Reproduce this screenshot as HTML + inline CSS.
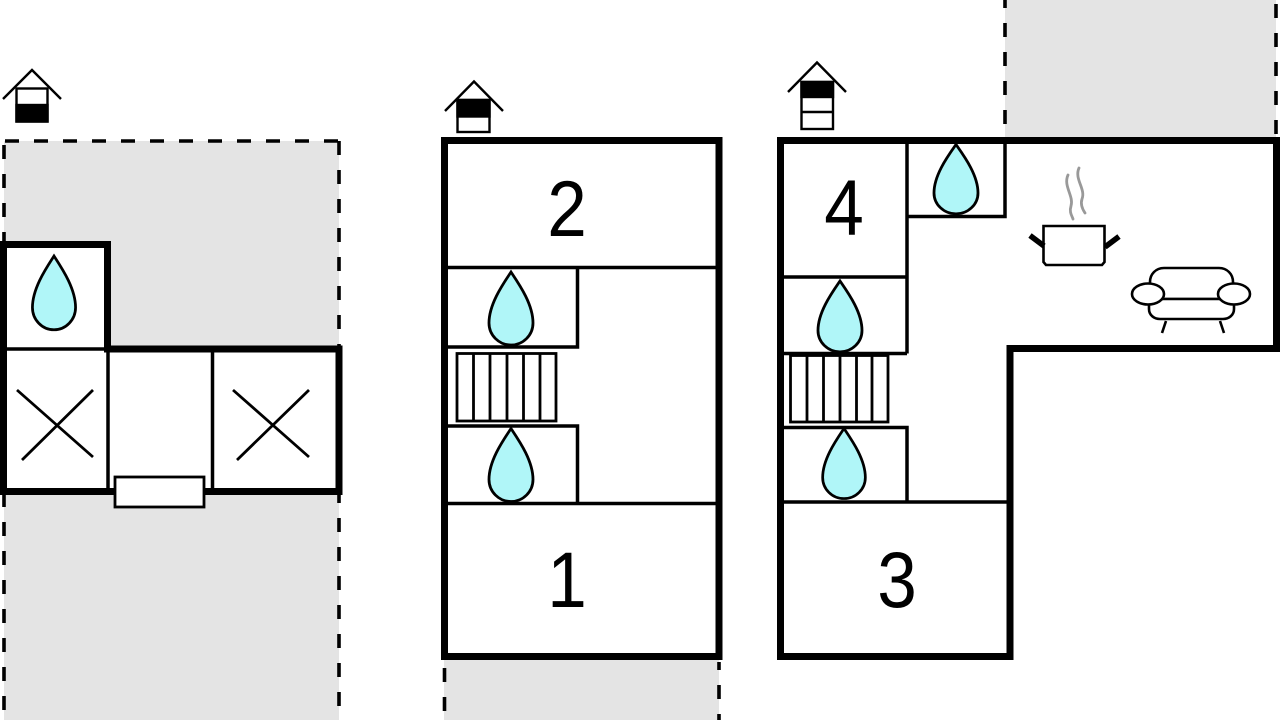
<!DOCTYPE html>
<html><head><meta charset="utf-8"><style>
html,body{margin:0;padding:0;background:#fff;}
svg{display:block;}
text{font-family:"Liberation Sans",Arial,sans-serif;}
</style></head><body>
<svg width="1280" height="720" viewBox="0 0 1280 720" xmlns="http://www.w3.org/2000/svg">
<defs>
<path id="drop" d="M0,0 C8,12 22,32 22,51 A22,22 0 0 1 -22,51 C-22,32 -8,12 0,0 Z" fill="#b0f6f8" stroke="#000" stroke-width="2.8"/>
</defs>

<!-- gray outdoor areas -->
<rect x="4" y="141" width="335" height="590" fill="#e4e4e4"/>
<rect x="444" y="658" width="275" height="70" fill="#e4e4e4"/>
<rect x="1005" y="-5" width="271" height="145" fill="#e4e4e4"/>
<g stroke="#000" stroke-width="3.6" stroke-dasharray="14 15" fill="none">
  <path d="M5,141 H339"/>
  <path d="M4,145 V720"/>
  <path d="M339,141 V720"/>
  <path d="M444.5,662 V720" stroke-dashoffset="-6"/>
  <path d="M719,662 V720" stroke-dashoffset="6"/>
  <path d="M1005,0 V138" stroke-dashoffset="6"/>
  <path d="M1276,0 V138" stroke-dashoffset="-4"/>
</g>

<!-- ============ LEFT PLAN ============ -->
<g stroke="#000" fill="none">
  <path d="M3.5,244.5 H107.5 V349 H339 V491.5 H3.5 Z" fill="#fff" stroke-width="7"/>
  <path d="M3.5,349 H107.5" stroke-width="3.5"/>
  <path d="M108,349 V491" stroke-width="3.5"/>
  <path d="M212.5,349 V491" stroke-width="3.5"/>
  <path d="M17,390 L93,457 M93,390 L22,460" stroke-width="2.8"/>
  <path d="M233,390 L309,457 M309,390 L237,460" stroke-width="2.8"/>
  <rect x="115" y="477" width="89" height="30" fill="#fff" stroke-width="2.8"/>
</g>
<use href="#drop" transform="translate(54,256) scale(0.98,1.01)"/>
<!-- left house icon -->
<g stroke="#000" stroke-width="2.4">
  <rect x="16.5" y="88.5" width="31" height="33" fill="#fff"/>
  <rect x="16.5" y="105" width="31" height="16.5" fill="#000"/>
  <path d="M3,99 L32,70 L61,99" fill="none"/>
</g>

<!-- ============ MIDDLE PLAN ============ -->
<g stroke="#000" fill="none">
  <rect x="444.5" y="140.5" width="274.5" height="516" fill="#fff" stroke-width="7"/>
  <path d="M444,267.5 H719" stroke-width="3.5"/>
  <path d="M444,347 H577.5 V267.5" stroke-width="3.5"/>
  <rect x="457" y="353.5" width="99" height="67.5" stroke-width="2.8"/>
  <path d="M473.5,353.5 V421 M490,353.5 V421 M507,353.5 V421 M523.5,353.5 V421 M540,353.5 V421" stroke-width="2.8"/>
  <path d="M444,426 H577.5 V503.5" stroke-width="3.5"/>
  <path d="M444,503.5 H719" stroke-width="3.5"/>
</g>
<use href="#drop" transform="translate(511,272) scale(1,1)"/>
<use href="#drop" transform="translate(511,428.5) scale(1,1)"/>
<text transform="translate(567,236) scale(0.9,1)" font-size="79" text-anchor="middle" fill="#000">2</text>
<text transform="translate(567,607) scale(0.9,1)" font-size="79" text-anchor="middle" fill="#000">1</text>
<!-- middle house icon -->
<g stroke="#000" stroke-width="2.4">
  <rect x="457.5" y="100" width="32" height="32" fill="#fff"/>
  <rect x="457.5" y="100" width="32" height="16.5" fill="#000"/>
  <path d="M445,111 L474,81.5 L503,111" fill="none"/>
</g>

<!-- ============ RIGHT PLAN ============ -->
<g stroke="#000" fill="none">
  <path d="M780.5,140.5 H1276.5 V348.5 H1010 V656.5 H780.5 Z" fill="#fff" stroke-width="7"/>
  <path d="M907,144 V353.5" stroke-width="3.5"/>
  <path d="M784,277 H907" stroke-width="3.5"/>
  <path d="M784,353.5 H907" stroke-width="3.5"/>
  <path d="M907,216.5 H1005 V144" stroke-width="3.5"/>
  <rect x="790.5" y="355.5" width="97.5" height="66.5" stroke-width="2.8"/>
  <path d="M807,355.5 V422 M823.5,355.5 V422 M840,355.5 V422 M856.5,355.5 V422 M872,355.5 V422" stroke-width="2.8"/>
  <path d="M784,427.5 H907 V502" stroke-width="3.5"/>
  <path d="M784,502 H1010" stroke-width="3.5"/>
</g>
<use href="#drop" transform="translate(956,144.5) scale(1,0.95)"/>
<use href="#drop" transform="translate(840,281) scale(1,0.97)"/>
<use href="#drop" transform="translate(844,428.5) scale(0.97,0.96)"/>
<text transform="translate(844,235) scale(0.9,1)" font-size="79" text-anchor="middle" fill="#000">4</text>
<text transform="translate(897,607) scale(0.9,1)" font-size="79" text-anchor="middle" fill="#000">3</text>
<!-- right house icon -->
<g stroke="#000" stroke-width="2.4">
  <rect x="801.5" y="82" width="31.5" height="47" fill="#fff"/>
  <rect x="801.5" y="82" width="31.5" height="15" fill="#000"/>
  <path d="M801.5,112 H833" fill="none"/>
  <path d="M788,92 L817,62.5 L846,92" fill="none"/>
</g>

<!-- pot -->
<g stroke="#000" fill="none">
  <path d="M1043.5,226 H1104.5 V262 L1102,265 H1046 L1043.5,262 Z" fill="#fff" stroke-width="2.6"/>
  <path d="M1030,235.5 L1044,246" stroke-width="5.5"/>
  <path d="M1119,236.5 L1105,247" stroke-width="5.5"/>
</g>
<g stroke="#999" stroke-width="2.8" fill="none" stroke-linecap="round">
  <path d="M1068,175 C1063,186 1074,196 1071,206 C1069,212 1072,216 1073,219"/>
  <path d="M1079,168 C1074,179 1086,189 1082,199 C1080,205 1083,210 1085,213"/>
</g>
<!-- sofa -->
<g stroke="#000" stroke-width="2.6" fill="#fff">
  <path d="M1150,299 V282 C1150,274 1156,268 1164,268 H1219 C1227,268 1233,274 1233,282 V299 Z"/>
  <path d="M1149,299 H1234 V309 C1234,315 1229,319 1223,319 H1160 C1154,319 1149,315 1149,309 Z"/>
  <ellipse cx="1148" cy="294" rx="16" ry="10.5"/>
  <ellipse cx="1234" cy="294" rx="16" ry="10.5"/>
  <path d="M1166,321 L1162,333 M1220,321 L1224,333" fill="none"/>
</g>
</svg>
</body></html>
